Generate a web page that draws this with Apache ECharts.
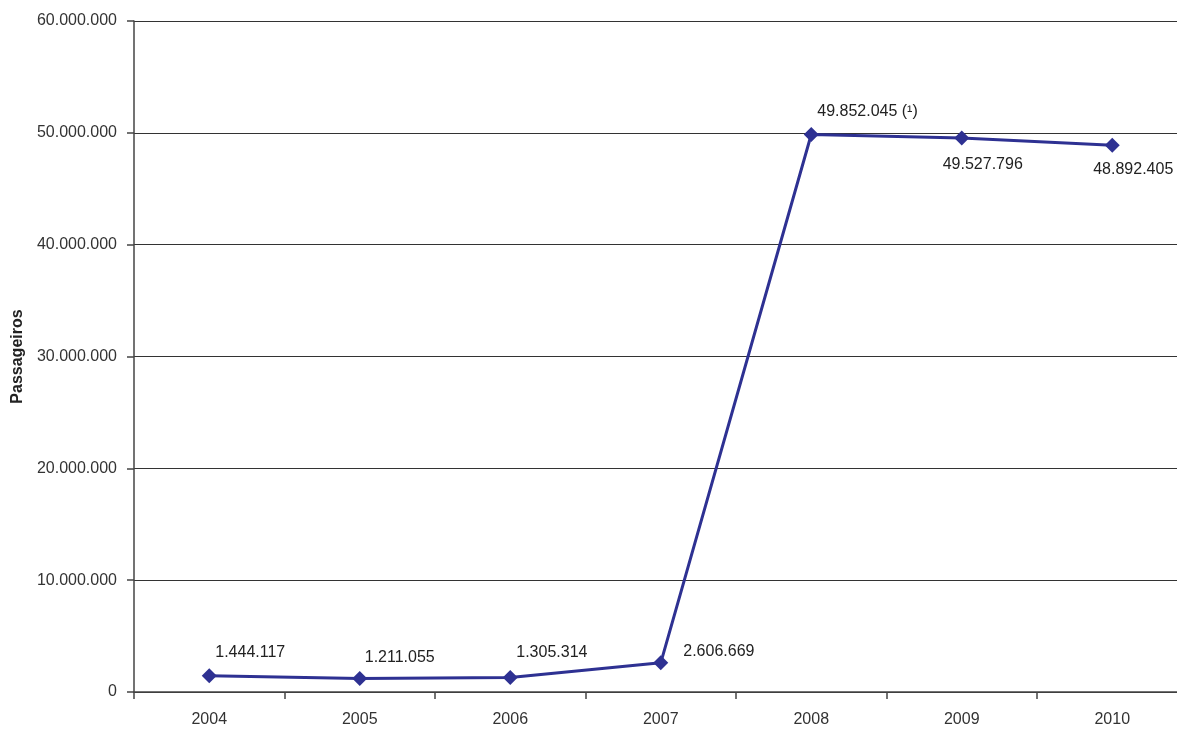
<!DOCTYPE html>
<html>
<head>
<meta charset="utf-8">
<script src="https://cdn.jsdelivr.net/npm/echarts@6/dist/echarts.min.js"></script>
<style>
html, body { margin: 0; padding: 0; background: #fff; }
#chart { width: 1177px; height: 729px; }
</style>
</head>
<body>
<div id="chart"></div>
<script>
var anos = ['2004', '2005', '2006', '2007', '2008', '2009', '2010'];
var passageiros = [1444117, 1211055, 1305314, 2606669, 49852045, 49527796, 48892405];
var notas = ['', '', '', '', '(¹)', '', ''];

var chart = echarts.init(document.getElementById('chart'));

// formata com ponto de milhar
function fmt(v) {
	return String(v).replace(/\B(?=(\d{3})+(?!\d))/g, '.');
}

// posicao de cada rotulo
var rot = [
	{ position: 'top', align: 'left', offset: [6, -3] },
	{ position: 'top', align: 'left', offset: [5, 0] },
	{ position: 'top', align: 'left', offset: [6, -4] },
	{ position: 'right', offset: [10, -11] },
	{ position: 'top', align: 'left', offset: [6, -2] },
	{ position: 'bottom', offset: [21, 6] },
	{ position: 'bottom', offset: [21, 4] }
];

var dados = passageiros.map(function (v, i) {
	return { value: v, label: rot[i] };
});

var option = {
	animation: false,
	grid: { left: 134, top: 21, bottom: 37, right: -10.5, outerBoundsMode: 'none', containLabel: false },
	xAxis: {
		type: 'category',
		data: anos,
		boundaryGap: true,
		axisLine: { lineStyle: { color: '#444', width: 1.5 } },
		axisTick: { show: true, length: 7, lineStyle: { color: '#444', width: 1.5 } },
		axisLabel: { color: '#333', fontSize: 16, fontFamily: 'Liberation Sans', margin: 20 },
		splitLine: { show: false }
	},
	yAxis: {
		type: 'value',
		min: 0,
		max: 60000000,
		interval: 10000000,
		name: 'Passageiros',
		nameLocation: 'middle',
		nameGap: 106,
		nameTextStyle: { fontWeight: 'bold', fontSize: 16, color: '#222', fontFamily: 'Liberation Sans' },
		axisLine: { show: true, lineStyle: { color: '#444', width: 1.5 } },
		axisTick: { show: true, length: 7, lineStyle: { color: '#444', width: 1.5 } },
		axisLabel: {
			color: '#333', fontSize: 16, fontFamily: 'Liberation Sans', margin: 17,
			formatter: function (v) { return fmt(v); }
		},
		splitLine: { show: true, lineStyle: { color: '#333', width: 1 } }
	},
	series: [{
		type: 'line',
		data: dados,
		symbol: 'diamond',
		symbolSize: 15,
		lineStyle: { color: '#2e3192', width: 3 },
		itemStyle: { color: '#2e3192' },
		label: {
			show: true,
			color: '#222',
			fontSize: 16,
			fontFamily: 'Liberation Sans',
			formatter: function (p) {
				var n = notas[p.dataIndex];
				return n ? fmt(p.value) + ' ' + n : fmt(p.value);
			}
		}
	}]
};
chart.setOption(option);
</script>
</body>
</html>
